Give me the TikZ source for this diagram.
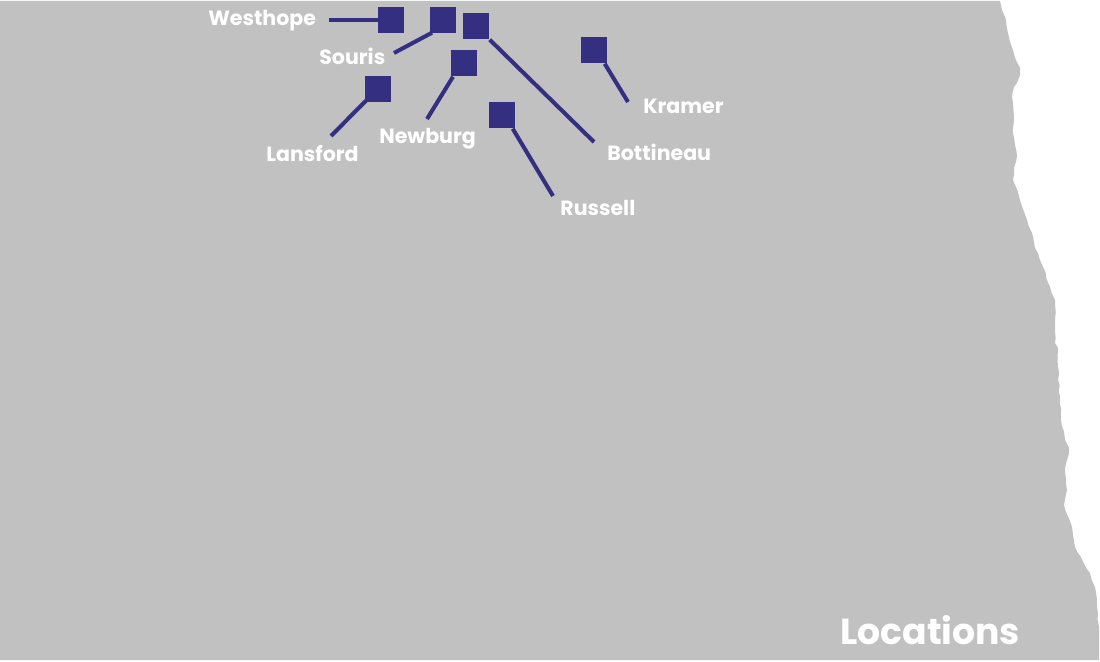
\documentclass[tikz,border=0pt]{standalone}
\usepackage{fontspec}
\setmainfont{Poppins}
\usetikzlibrary{decorations.pathmorphing}
\definecolor{mapgray}{HTML}{C1C1C1}
\definecolor{siteblue}{HTML}{352F82}
\tikzset{
  site/.style={fill=siteblue, inner sep=0pt, minimum size=0.52cm, anchor=north west},
  lead/.style={draw=siteblue, line width=2.3pt},
  town/.style={text=white, inner sep=0pt, anchor=base west, font=\fontsize{11.7}{13}\selectfont\bfseries},
}
\begin{document}
\begin{tikzpicture}[x=0.02cm,y=-0.02cm]
\useasboundingbox (0,0) rectangle (1100,662);
\pgfmathsetseed{7}
% state outline
\fill [mapgray] (0,1) -- (1000,1) decorate [decoration={random steps,segment length=3.5pt,amplitude=0.45pt}] {
  -- (1002,10) -- (1006,20) -- (1008,33) -- (1010,42) -- (1013,50) -- (1015,58) -- (1020,68) -- (1019,78)
  -- (1014,87) -- (1012,97) -- (1014,117) -- (1013,133) -- (1015,145) -- (1017,155) -- (1014,168) -- (1013,180) -- (1020,200) -- (1027,220)
  -- (1032,233) -- (1035,248) -- (1043,267) -- (1050,287) -- (1055,300) -- (1055,320) -- (1055,343) -- (1058,348) -- (1058,367)
  -- (1060,397) -- (1061,420) -- (1065,440) -- (1069,448) -- (1065,472) -- (1067,490) -- (1064,505) -- (1072,527) -- (1075,547)
  -- (1090,573) -- (1095,587) -- (1097,607) -- (1099,627) } -- (1099,660) -- (0,660) -- cycle;
% sites
\node [site] (westhope) at (378,7) {};
\node [site] (souris) at (430,7) {};
\node [site] (bottineau) at (463,13) {};
\node [site] (newburg) at (451,50) {};
\node [site] (lansford) at (365,76) {};
\node [site] (russell) at (489,102) {};
\node [site] (kramer) at (581,37) {};
% leads
\coordinate (westhopeend) at (329,20);
\coordinate (sourisend) at (394,53);
\coordinate (bottineauend) at (594,142);
\coordinate (newburgend) at (427,119);
\coordinate (lansfordend) at (331,136);
\coordinate (russellend) at (553,196);
\coordinate (kramerend) at (628,102);
\draw [lead] (westhope.west) -- (westhopeend |- westhope.west);
\draw [lead] (souris.south west) ++(2,-1) -- (sourisend);
\draw [lead] (bottineau.south east) -- (bottineauend);
\draw [lead] (newburg.south west) ++(2,0) -- (newburgend);
\draw [lead] (lansford.south west) ++(1,-2) -- (lansfordend);
\draw [lead] (russell.south east) ++(-3,0) -- (russellend);
\draw [lead] (kramer.south east) ++(-3,0) -- (kramerend);
% labels
\node [town] (westhopetext) at (208,26) {Westhope};
\node [town] (souristext) at (319,65) {Souris};
\node [town] (lansfordtext) at (266,162) {Lansford};
\node [town] (newburgtext) at (379,144) {Newburg};
\node [town] (russelltext) at (560,216) {Russell};
\node [town] (bottineautext) at (607,161) {Bottineau};
\node [town] (kramertext) at (643,114) {Kramer};
\node [town, font=\fontsize{20.6}{24}\selectfont\bfseries] (title) at (840,644) {Locations};
\end{tikzpicture}
\end{document}
